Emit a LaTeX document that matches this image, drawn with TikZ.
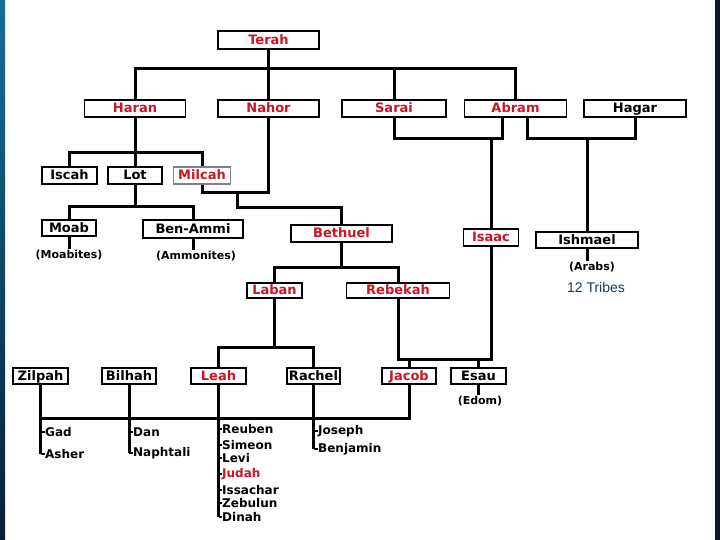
\documentclass[tikz,border=0pt]{standalone}
\usepackage{fontspec}
\setmainfont{DejaVu Sans}
\newfontfamily\tribefont{Liberation Sans}
\definecolor{namered}{RGB}{200,22,36}
\definecolor{tribeblue}{RGB}{30,55,95}
\definecolor{stripTop}{RGB}{22,110,150}
\definecolor{stripBot}{RGB}{10,30,50}
\definecolor{stripR}{RGB}{14,24,34}
\newcommand{\boxfont}{\bfseries\fontsize{13}{15}\selectfont}
\newcommand{\namefont}{\bfseries\fontsize{12}{14}\selectfont}
\newcommand{\parfont}{\bfseries\fontsize{11}{13}\selectfont}
\begin{document}
\begin{tikzpicture}[x=1pt,y=-1pt,
  box/.style={draw=black, line width=1.1pt, fill=white, inner sep=0pt, minimum height=17pt, text height=9.5pt, text depth=0.8pt, font=\boxfont, text=black},
  rbox/.style={box, text=namered},
  conn/.style={line width=3pt},
  tick/.style={line width=1.2pt},
  kid/.style={anchor=west, inner sep=0pt, font=\namefont, text=black},
  paren/.style={inner sep=1pt, font=\parfont, text=black}]
\useasboundingbox (0,0) rectangle (720,540);
\fill[white] (0,0) rectangle (720,540);
\shade[top color=stripTop, bottom color=stripBot] (0,0) rectangle (5,540);
\fill[stripR] (715,0) rectangle (720,540);

% generation 1-2
\node[rbox, minimum width=101pt, minimum height=18pt] (terah) at (268.5,40) {Terah};
\node[rbox, minimum width=101pt] (haran) at (135,108.5) {Haran};
\node[rbox, minimum width=101pt] (nahor) at (268.5,108.5) {Nahor};
\node[rbox, minimum width=104pt] (sarai) at (394,108.5) {Sarai};
\node[rbox, minimum width=102pt] (abram) at (515.5,108.5) {Abram};
\node[box, minimum width=102pt] (hagar) at (635,108.5) {Hagar};

% generation 3
\node[box, minimum width=55pt] (iscah) at (69.5,175.5) {Iscah};
\node[box, minimum width=54pt] (lot) at (135,175.5) {Lot};
\node[rbox, draw=gray, minimum width=57pt] (milcah) at (202,175.5) {Milcah};

\node[box, minimum width=54pt, minimum height=16pt] (moab) at (69,228) {Moab};
\node[box, minimum width=100pt, minimum height=18pt] (benammi) at (193,229) {Ben-Ammi};
\node[paren] (moabites) at (69,255) {(Moabites)};
\node[paren] (ammonites) at (196,256) {(Ammonites)};

\node[rbox, minimum width=101pt] (bethuel) at (341.5,233.5) {Bethuel};
\node[rbox, minimum width=55pt] (isaac) at (491,237.5) {Isaac};
\node[box, minimum width=102pt, minimum height=16pt] (ishmael) at (587,240) {Ishmael};
\node[paren] (arabs) at (592,267) {(Arabs)};
\node[inner sep=1pt, font=\tribefont\fontsize{14}{16}\selectfont, text=tribeblue] (tribes) at (596,287) {12 Tribes};

\node[rbox, minimum width=55pt, minimum height=15pt] (laban) at (274.5,290.5) {Laban};
\node[rbox, minimum width=103pt, minimum height=15pt] (rebekah) at (398,290.5) {Rebekah};

% bottom row
\node[box, minimum width=55pt, minimum height=16pt] (zilpah) at (40.5,376) {Zilpah};
\node[box, minimum width=54pt, minimum height=16pt] (bilhah) at (129,376) {Bilhah};
\node[rbox, minimum width=55pt, minimum height=16pt] (leah) at (218.5,376) {Leah};
\node[box, minimum width=53pt, minimum height=16pt] (rachel) at (313.5,376) {Rachel};
\node[rbox, minimum width=54pt, minimum height=16pt] (jacob) at (409,376) {Jacob};
\node[box, minimum width=55pt, minimum height=16pt] (esau) at (478.5,376) {Esau};
\node[paren] (edom) at (480,401) {(Edom)};

% children
\node[kid] (gad) at (45,432) {Gad};
\node[kid] (asher) at (45,454) {Asher};
\node[kid] (dan) at (133,432) {Dan};
\node[kid] (naphtali) at (133,453) {Naphtali};
\node[kid] (reuben) at (222,429) {Reuben};
\node[kid] (simeon) at (222,445) {Simeon};
\node[kid] (levi) at (222,458) {Levi};
\node[kid, text=namered] (judah) at (222,474) {Judah};
\node[kid] (issachar) at (222,490) {Issachar};
\node[kid] (zebulun) at (222,503) {Zebulun};
\node[kid] (dinah) at (222,517) {Dinah};
\node[kid] (joseph) at (318,431) {Joseph};
\node[kid] (benjamin) at (318,449) {Benjamin};

% connectors
\coordinate (tbar) at (268.5,69);
\draw[conn] (terah.south) -- (nahor.north);
\draw[conn] (haran.north) |- (tbar) -| (abram.north);
\draw[conn] (sarai.north) -- (sarai.north |- tbar);

\coordinate (hbar) at (135,153);
\draw[conn] (haran.south) -- (lot.north);
\draw[conn] (iscah.north) |- (hbar) -| (milcah.north);

\coordinate (lbar) at (135,207);
\draw[conn] (lot.south) -- (lbar);
\draw[conn] (moab.north) |- (lbar) -| (benammi.north);
\draw[conn] (moab.south) -- (moabites.north);
\draw[conn] (benammi.south) -- (benammi.south |- ammonites.north);

\coordinate (nm) at (237,193);
\coordinate (nmb) at (237,208);
\draw[conn] (milcah.south) |- (nm) -| (nahor.south);
\draw[conn] (nm) -- (nmb) -| (bethuel.north);

\coordinate (bbar) at (341.5,267);
\draw[conn] (bethuel.south) -- (bbar);
\draw[conn] (laban.north) |- (bbar) -| (rebekah.north);

\coordinate (asl) at ([xshift=-13.5pt]abram.south);
\coordinate (asr) at ([xshift=11.5pt]abram.south);
\coordinate (asbar) at (491,139);
\coordinate (ahbar) at (587,139);
\draw[conn] (sarai.south) |- (asbar) -| (asl);
\draw[conn] (asbar) -- (isaac.north);
\draw[conn] (asr) |- (ahbar) -| (hagar.south);
\draw[conn] (ahbar) -- (ishmael.north);
\draw[conn] (ishmael.south) -- (ishmael.south |- arabs.north);

\coordinate (irbar) at (440,359);
\draw[conn] (rebekah.south) |- (irbar) -| (isaac.south);
\draw[conn] (jacob.north) -- (jacob.north |- irbar);
\draw[conn] (esau.north) -- (esau.north |- irbar);
\draw[conn] (esau.south) -- (esau.south |- edom.north);

\coordinate (lrbar) at (274.5,347);
\draw[conn] (laban.south) -- (lrbar);
\draw[conn] (leah.north) |- (lrbar) -| (rachel.north);

\coordinate (jbar) at (409,418);
\draw[conn] (jacob.south) |- (zilpah.south |- jbar);

\draw[conn] (zilpah.south) -- (zilpah.south |- asher.west);
\foreach \k in {gad,asher} \draw[tick] (zilpah.south |- \k.west) -- (\k.west);
\draw[conn] (bilhah.south) -- (bilhah.south |- naphtali.west);
\foreach \k in {dan,naphtali} \draw[tick] (bilhah.south |- \k.west) -- (\k.west);
\draw[conn] (leah.south) -- (leah.south |- dinah.west);
\foreach \k in {reuben,simeon,levi,judah,issachar,zebulun,dinah} \draw[tick] (leah.south |- \k.west) -- (\k.west);
\draw[conn] (rachel.south) -- (rachel.south |- benjamin.west);
\foreach \k in {joseph,benjamin} \draw[tick] (rachel.south |- \k.west) -- (\k.west);
\end{tikzpicture}
\end{document}
